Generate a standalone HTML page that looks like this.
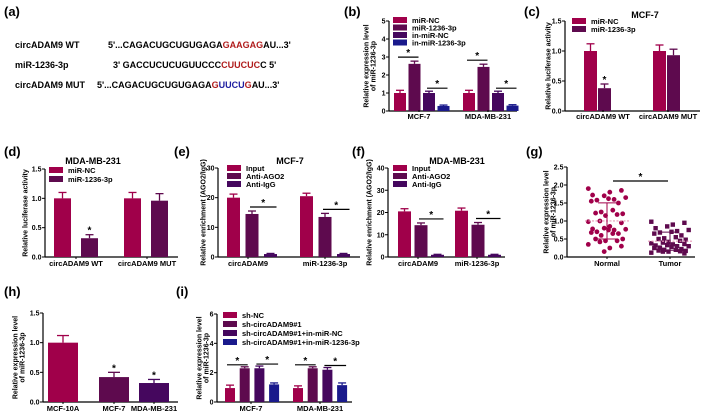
<!DOCTYPE html>
<html><head><meta charset="utf-8">
<style>
html,body{margin:0;padding:0;background:#fff;}
svg{display:block;font-family:"Liberation Sans",Arial,sans-serif;}
text{font-weight:bold;}
</style></head>
<body>
<svg id="fig" width="709" height="414" viewBox="0 0 709 414" xmlns="http://www.w3.org/2000/svg">
<g font-size="13">
<text x="4" y="16">(a)</text><text x="344" y="16">(b)</text><text x="524" y="16">(c)</text>
<text x="4" y="156">(d)</text><text x="174" y="156">(e)</text><text x="352" y="156">(f)</text><text x="526" y="156">(g)</text>
<text x="4" y="296">(h)</text><text x="176" y="296">(i)</text>
</g>
<g font-size="9">
<text x="15" y="48">circADAM9 WT</text>
<text x="108" y="48">5'...CAGACUGCUGUGAGA<tspan fill="#b01c1c">GAAGAG</tspan>AU...3'</text>
<text x="15" y="68">miR-1236-3p</text>
<text x="113" y="68">3' GACCUCUCUGUUCCC<tspan fill="#b01c1c">CUUCUC</tspan>C 5'</text>
<text x="15" y="88">circADAM9 MUT</text>
<text x="97" y="88">5'...CAGACUGCUGUGAGA<tspan fill="#b01c1c">G</tspan><tspan fill="#1c1ca0">UUCU</tspan><tspan fill="#b01c1c">G</tspan>AU...3'</text>
</g>
</svg>
<script>
// ---- data ----
const bCats=["MCF-7","MDA-MB-231"];
const bSeries=["miR-NC","miR-1236-3p","in-miR-NC","in-miR-1236-3p"];
const bVals=[[1.0,2.62,1.0,0.28],[1.0,2.45,1.0,0.3]];
const bErr=[[0.15,0.15,0.1,0.05],[0.15,0.15,0.1,0.05]];
const cCats=["circADAM9 WT","circADAM9 MUT"];
const cSeries=["miR-NC","miR-1236-3p"];
const cVals=[[1.0,0.38],[1.0,0.93]];
const cErr=[[0.12,0.07],[0.1,0.1]];
const dVals=[[1.0,0.32],[1.0,0.96]];
const dErr=[[0.1,0.06],[0.1,0.12]];
const eCats=["circADAM9","miR-1236-3p"];
const eSeries=["Input","Anti-AGO2","Anti-IgG"];
const eVals=[[20,14.5,1.0],[20.5,13.5,1.0]];
const eErr=[[1.2,1.0,0.2],[1.0,1.2,0.2]];
const fVals=[[20.5,14.3,1.0],[20.8,14.5,1.0]];
const fErr=[[1.2,1.0,0.2],[1.2,1.0,0.2]];
const gCats=["Normal","Tumor"];
const gNormal=[1.9,1.85,1.8,1.7,1.72,1.65,1.6,1.62,1.58,1.55,1.5,1.3,1.25,1.22,1.2,1.18,1.15,1.0,0.98,0.95,0.85,0.8,0.78,0.77,0.75,0.75,0.7,0.68,0.65,0.65,0.6,0.5,0.5,0.45,0.45,0.42,0.35,0.3,0.25,0.15];
const gTumor=[0.98,0.95,0.9,0.85,0.8,0.75,0.72,0.7,0.68,0.65,0.6,0.55,0.52,0.5,0.48,0.45,0.42,0.4,0.38,0.36,0.35,0.33,0.32,0.3,0.3,0.28,0.26,0.25,0.22,0.2,0.2,0.18,0.17,0.16,0.15,0.15,0.12,0.1];
const hCats=["MCF-10A","MCF-7","MDA-MB-231"];
const hVals=[1.0,0.42,0.32];
const hErr=[0.12,0.08,0.06];
const iCats=["MCF-7","MDA-MB-231"];
const iSeries=["sh-NC","sh-circADAM9#1","sh-circADAM9#1+in-miR-NC","sh-circADAM9#1+in-miR-1236-3p"];
const iVals=[[0.95,2.3,2.3,1.2],[0.95,2.3,2.2,1.15]];
const iErr=[[0.2,0.1,0.15,0.1],[0.15,0.1,0.15,0.15]];

const COL=["#a0004a","#5e0a4e","#45075e","#1a1a8c"];
const svg=document.getElementById('fig');
const NS="http://www.w3.org/2000/svg";
function mk(tag,attrs,parent){const e=document.createElementNS(NS,tag);for(const k in attrs)e.setAttribute(k,attrs[k]);(parent||svg).appendChild(e);return e;}
function txt(s,attrs,parent){const e=mk('text',attrs,parent);e.textContent=s;return e;}

function axis(g,ax,y0,y1,max,ticks,xEnd,titles,offs,decimals){
  const sy=v=>y0-(v/max)*(y0-y1);
  mk('line',{x1:ax,y1:y1,x2:ax,y2:y0,stroke:'#000','stroke-width':1.2},g);
  mk('line',{x1:ax,y1:y0,x2:xEnd,y2:y0,stroke:'#000','stroke-width':1.2},g);
  ticks.forEach(t=>{const y=sy(t);
    mk('line',{x1:ax-3,y1:y,x2:ax,y2:y,stroke:'#000'},g);
    const tl=txt(decimals?t.toFixed(decimals):String(t),{x:ax-3.5,y:y+2.5,'font-size':7,'text-anchor':'end'},g);
    
    
  });
  const cy=(y0+y1)/2;
  titles.forEach((tt,i)=>{
    const t=txt(tt,{x:0,y:0,'font-size':7,'text-anchor':'middle',transform:`translate(${ax+offs[i]+2.5},${cy}) rotate(-90)`},g);
    
  });
  return sy;
}
function legend(g,x,y,step,names,cols){
  names.forEach((n,i)=>{
    const r=mk('rect',{x:x,y:y+i*step-5,width:14,height:6,fill:cols[i]},g);
    
    const t=txt(n,{x:x+19,y:y+i*step+1,'font-size':7.5},g);
    
  });
}
function bars(g,sy,groupStarts,step,bw,vals,errs,cols){
  const pos=[];
  vals.forEach((grp,gi)=>{pos.push([]);grp.forEach((v,si)=>{
    const x=groupStarts[gi]+si*step;
    const r=mk('rect',{x:x,y:sy(v),width:bw,height:sy(0)-sy(v),fill:cols[si]},g);
    
    
    const e=sy(v+errs[gi][si]);
    mk('line',{x1:x+bw/2,y1:sy(v),x2:x+bw/2,y2:e,stroke:cols[si],'stroke-width':1.3},g);
    mk('line',{x1:x+bw/2-4,y1:e,x2:x+bw/2+4,y2:e,stroke:cols[si],'stroke-width':1.3},g);
    pos[gi].push({cx:x+bw/2,top:e});
  });});
  return pos;
}
function catLabels(g,cats,centers,y){
  cats.forEach((c,i)=>{const t=txt(c,{x:centers[i],y:y,'font-size':7.5,'text-anchor':'middle'},g);
    
    mk('line',{x1:centers[i],y1:y-9,x2:centers[i],y2:y-7,stroke:'#000'},g);});
}
function sig(g,x1,x2,y){
  mk('line',{x1:x1,y1:y,x2:x2,y2:y,stroke:'#000','stroke-width':1.2},g);
  txt('*',{x:(x1+x2)/2,y:y-1,'font-size':10,'text-anchor':'middle'},g);
}
function panel(name){const g=mk('g',{});return g;}

// (b)
{const g=panel('panel-b-chart');
 const sy=axis(g,389,111,21,5,[0,1,2,3,4,5],517,['Relative expression level','of miR-1236-3p'],[-23,-16],0);
 const p=bars(g,sy,[394,463],14.5,12,bVals,bErr,COL);
 legend(g,393,22,7.5,bSeries,COL);
 catLabels(g,bCats,[419,488],119);
 p.forEach(gp=>{sig(g,gp[0].cx-2,gp[1].cx+4,gp[1].top-4);sig(g,gp[2].cx-2,gp[3].cx+4,gp[2].top-3);});
}
// (c)
{const g=panel('panel-c-chart');
 const sy=axis(g,565,111,21,1.5,[0,0.5,1.0,1.5],700,['Relative luciferase activity'],[-17],1);
 const p=bars(g,sy,[584,653],14,13,cVals,cErr,COL);
 legend(g,572,23,8,cSeries,COL);
 catLabels(g,cCats,[603,668],119);
 txt('MCF-7',{x:645,y:18,'font-size':9,'text-anchor':'middle'},g);
 txt('*',{x:p[0][1].cx,y:p[0][1].top-1,'font-size':10,'text-anchor':'middle'},g);
}
// (d)
{const g=panel('panel-d-chart');
 const sy=axis(g,45,257,169,1.5,[0,0.5,1.0,1.5],178,['Relative luciferase activity'],[-20],1);
 const p=bars(g,sy,[54,124],27,17,dVals,dErr,COL);
 legend(g,49,172,9,cSeries,COL);
 catLabels(g,cCats,[76,147],266);
 txt('MDA-MB-231',{x:93,y:164,'font-size':9,'text-anchor':'middle'},g);
 txt('*',{x:p[0][1].cx,y:p[0][1].top-1,'font-size':10,'text-anchor':'middle'},g);
}
// (e)
{const g=panel('panel-e-chart');
 const sy=axis(g,218,257,168,30,[0,10,20,30],360,['Relative enrichment (AGO2/IgG)'],[-15],0);
 const p=bars(g,sy,[227,300],18.5,13,eVals,eErr,COL);
 legend(g,227,170,8,eSeries,COL);
 catLabels(g,eCats,[248,325],266);
 txt('MCF-7',{x:290,y:164,'font-size':9,'text-anchor':'middle'},g);
 p.forEach(gp=>sig(g,gp[1].cx-2,gp[2].cx+6,gp[1].top-4));
}
// (f)
{const g=panel('panel-f-chart');
 const sy=axis(g,388,257,168,40,[0,10,20,30,40],505,['Relative enrichment (AGO2/IgG)'],[-19],0);
 const p=bars(g,sy,[398,455],16.5,13,fVals,fErr,COL);
 legend(g,393,170,8,eSeries,COL);
 catLabels(g,eCats,[418,477],266);
 txt('MDA-MB-231',{x:457,y:164,'font-size':9,'text-anchor':'middle'},g);
 p.forEach(gp=>sig(g,gp[1].cx-2,gp[2].cx+6,gp[1].top-4));
}
// (g)
{const g=panel('panel-g-chart');
 const sy=axis(g,567,257,167,2.5,[0,0.5,1.0,1.5,2.0,2.5],695,['Relative expression level','of miR-1236-3p'],[-21,-14],1);
 const centers=[607,670];
 catLabels(g,gCats,centers,266);
 [gNormal,gTumor].forEach((arr,k)=>{
   const cx=centers[k];
   arr.forEach((v,i)=>{
     const off=((i*7)%9-4)*4.3+((i%2)?1.5:-1.5);
     if(k===0){const c=mk('circle',{cx:cx+off,cy:sy(v),r:2.4,fill:'#a0004a'},g);
       }
     else{const r=mk('rect',{x:cx+off-2.2,y:sy(v)-2.2,width:4.4,height:4.4,fill:'#5e0a4e'},g);
       }
   });
   const mean=arr.reduce((a,b)=>a+b,0)/arr.length;
   const sd=Math.sqrt(arr.reduce((a,b)=>a+(b-mean)**2,0)/arr.length);
   const col=k===0?'#a0004a':'#5e0a4e';
   mk('line',{x1:cx-22,y1:sy(mean),x2:cx+22,y2:sy(mean),stroke:'#e89ab8','stroke-dasharray':'2,1.5','stroke-width':1.2},g);
   mk('line',{x1:cx,y1:sy(mean-sd),x2:cx,y2:sy(mean+sd),stroke:col},g);
   [mean-sd,mean+sd].forEach(v=>mk('line',{x1:cx-9,y1:sy(v),x2:cx+9,y2:sy(v),stroke:col},g));
 });
 sig(g,613,668,181);
}
// (h)
{const g=panel('panel-h-chart');
 const sy=axis(g,43,402,313,1.5,[0,0.5,1.0,1.5],178,['Relative expression level','of miR-1236-3p'],[-28,-21],1);
 const centers=[63,114,154];
 hCats.forEach((c,i)=>{
   const v=hVals[i],x=centers[i]-15;
   const r=mk('rect',{x:x,y:sy(v),width:30,height:sy(0)-sy(v),fill:COL[i]},g);
   
   const e=sy(v+hErr[i]);
   mk('line',{x1:centers[i],y1:sy(v),x2:centers[i],y2:e,stroke:COL[i],'stroke-width':1.3},g);
   mk('line',{x1:centers[i]-6,y1:e,x2:centers[i]+6,y2:e,stroke:COL[i],'stroke-width':1.3},g);
   if(i>0)txt('*',{x:centers[i],y:e-1,'font-size':10,'text-anchor':'middle'},g);
 });
 catLabels(g,hCats,centers,411);
}
// (i)
{const g=panel('panel-i-chart');
 const sy=axis(g,217,402,314,6,[0,2,4,6],352,['Relative expression level','of miR-1236-3p'],[-18,-11],0);
 const p=bars(g,sy,[225,293],14.7,10,iVals,iErr,COL);
 legend(g,223,317,9,iSeries,COL);
 catLabels(g,iCats,[251,320],411);
 p.forEach(gp=>{sig(g,gp[0].cx-3,gp[1].cx+3,gp[1].top-2);sig(g,gp[2].cx-3,gp[3].cx+4,gp[2].top-2);});
}
</script>
</body></html>
